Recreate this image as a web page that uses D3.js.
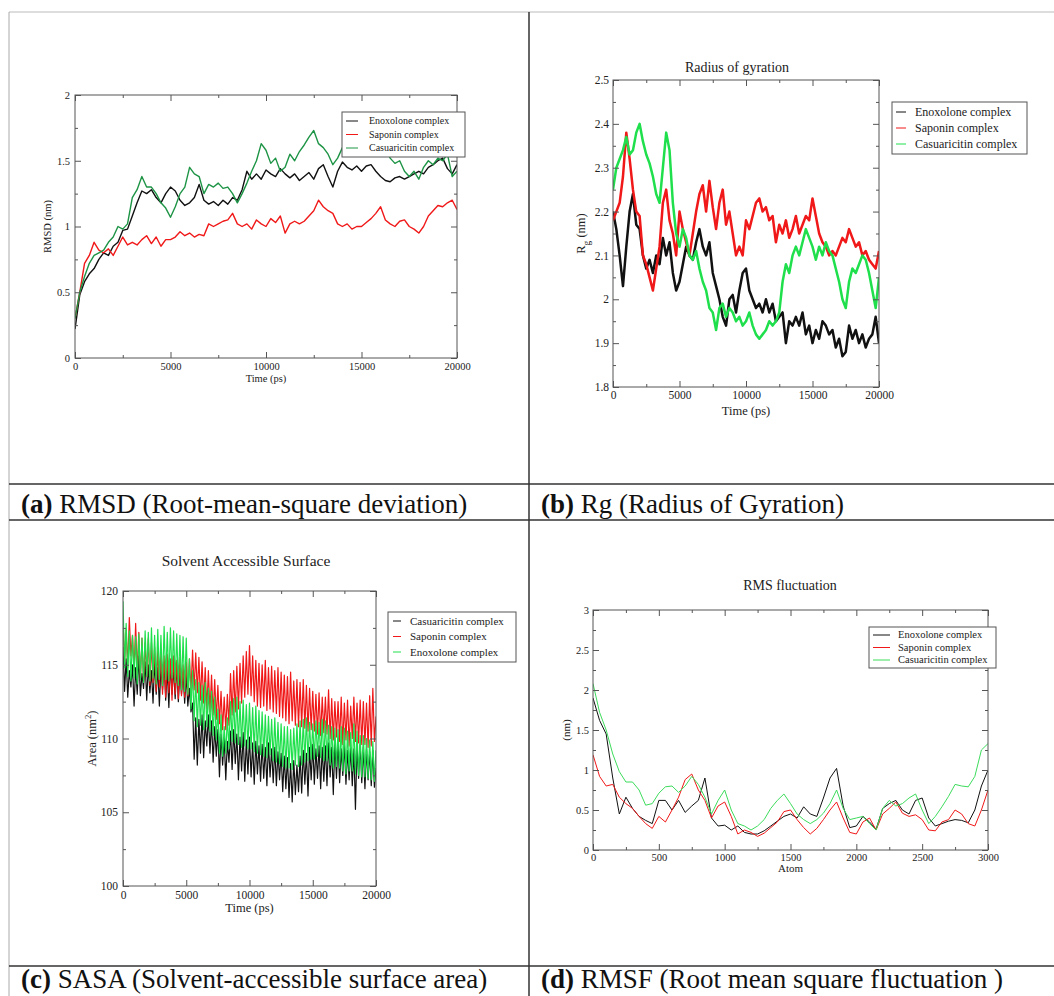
<!DOCTYPE html>
<html>
<head>
<meta charset="utf-8">
<script src="https://cdn.jsdelivr.net/npm/d3@7"></script>
<style>
  body { margin: 0; background: #fff; }
  svg { display: block; font-family: "Liberation Serif", "Times New Roman", serif; }
</style>
</head>
<body>
<svg id="fig" width="1054" height="996"></svg>
<script>
// ---- sampling grids ----
const simTime = d3.range(0, 20001, 250);   // RMSD / Rg frames, ps
const sasaTime = d3.range(0, 20001, 125);  // SASA frames, ps
const atomIdx = d3.range(0, 3001, 50);

const timeMajor = [0, 5000, 10000, 15000, 20000];
const timeMinor = [2500, 7500, 12500, 17500];

// ---- (a) RMSD (nm) ----
const rmsdEnoxolone = [
  0.22, 0.48, 0.58, 0.64, 0.68, 0.75, 0.80, 0.78, 0.85, 0.88, 0.97, 0.98, 1.08, 1.18, 1.27, 1.25,
  1.28, 1.22, 1.18, 1.25, 1.30, 1.27, 1.20, 1.16, 1.18, 1.22, 1.32, 1.20, 1.17, 1.19, 1.16, 1.20,
  1.17, 1.22, 1.20, 1.28, 1.42, 1.36, 1.40, 1.36, 1.43, 1.40, 1.38, 1.44, 1.40, 1.37, 1.40, 1.35,
  1.38, 1.41, 1.36, 1.44, 1.47, 1.38, 1.30, 1.42, 1.49, 1.45, 1.43, 1.46, 1.42, 1.46, 1.47, 1.42,
  1.38, 1.35, 1.34, 1.37, 1.38, 1.36, 1.38, 1.40, 1.42, 1.40, 1.45, 1.47, 1.50, 1.52, 1.44, 1.40, 1.47
];
const rmsdSaponin = [
  0.30, 0.50, 0.72, 0.78, 0.88, 0.82, 0.80, 0.83, 0.78, 0.85, 0.92, 0.86, 0.88, 0.86, 0.90, 0.93,
  0.87, 0.92, 0.85, 0.90, 0.90, 0.92, 0.96, 0.93, 0.95, 0.92, 0.94, 0.93, 1.02, 1.00, 1.02, 1.04,
  1.05, 1.10, 1.02, 1.00, 1.02, 0.98, 1.05, 1.02, 1.00, 1.06, 1.03, 1.08, 0.95, 1.02, 1.04, 1.02,
  1.04, 1.08, 1.12, 1.20, 1.15, 1.12, 1.10, 1.02, 1.00, 1.02, 0.98, 1.00, 1.00, 1.03, 1.06, 1.10,
  1.15, 1.05, 1.02, 1.00, 1.04, 1.05, 1.00, 0.98, 0.95, 1.00, 1.08, 1.12, 1.16, 1.15, 1.18, 1.20, 1.13
];
const rmsdCasuaricitin = [
  0.30, 0.50, 0.62, 0.72, 0.78, 0.80, 0.82, 0.88, 0.92, 1.00, 0.98, 1.02, 1.22, 1.28, 1.38, 1.30,
  1.30, 1.25, 1.18, 1.14, 1.07, 1.15, 1.25, 1.30, 1.45, 1.40, 1.38, 1.25, 1.32, 1.30, 1.33, 1.29,
  1.30, 1.25, 1.18, 1.25, 1.33, 1.42, 1.50, 1.63, 1.58, 1.48, 1.52, 1.42, 1.45, 1.55, 1.50, 1.57,
  1.62, 1.68, 1.73, 1.63, 1.60, 1.55, 1.47, 1.52, 1.60, 1.58, 1.62, 1.60, 1.58, 1.60, 1.62, 1.58,
  1.55, 1.60, 1.52, 1.48, 1.50, 1.42, 1.38, 1.42, 1.36, 1.45, 1.50, 1.47, 1.52, 1.50, 1.55, 1.38, 1.42
];

// ---- (b) Radius of gyration (nm) ----
const rgEnoxolone = [
  2.20, 2.16, 2.10, 2.03, 2.12, 2.20, 2.24, 2.17, 2.16, 2.10, 2.07, 2.09, 2.06, 2.10, 2.08, 2.14,
  2.10, 2.13, 2.06, 2.02, 2.04, 2.08, 2.12, 2.10, 2.09, 2.13, 2.16, 2.12, 2.10, 2.13, 2.06, 2.03,
  2.00, 1.96, 1.94, 2.00, 2.01, 1.97, 2.02, 2.06, 2.07, 2.02, 2.00, 1.98, 1.99, 1.97, 2.00, 1.97,
  1.99, 1.95, 1.96, 1.97, 1.90, 1.95, 1.94, 1.96, 1.94, 1.97, 1.92, 1.94, 1.90, 1.93, 1.91, 1.95,
  1.94, 1.92, 1.93, 1.89, 1.91, 1.87, 1.88, 1.94, 1.91, 1.93, 1.90, 1.92, 1.89, 1.91, 1.92, 1.96, 1.90
];
const rgSaponin = [
  2.18, 2.20, 2.22, 2.28, 2.38, 2.32, 2.25, 2.20, 2.19, 2.10, 2.08, 2.05, 2.02, 2.07, 2.12, 2.22,
  2.25, 2.18, 2.15, 2.10, 2.20, 2.16, 2.13, 2.10, 2.15, 2.20, 2.24, 2.26, 2.20, 2.27, 2.21, 2.16,
  2.22, 2.25, 2.17, 2.20, 2.15, 2.10, 2.12, 2.10, 2.18, 2.16, 2.19, 2.22, 2.23, 2.20, 2.21, 2.18,
  2.19, 2.13, 2.17, 2.15, 2.18, 2.14, 2.16, 2.19, 2.15, 2.17, 2.19, 2.18, 2.23, 2.19, 2.15, 2.13,
  2.12, 2.10, 2.11, 2.10, 2.12, 2.14, 2.13, 2.16, 2.14, 2.12, 2.13, 2.10, 2.11, 2.09, 2.08, 2.07, 2.11
];
const rgCasuaricitin = [
  2.25, 2.30, 2.32, 2.34, 2.37, 2.33, 2.34, 2.38, 2.40, 2.36, 2.33, 2.31, 2.28, 2.24, 2.22, 2.30,
  2.38, 2.34, 2.22, 2.15, 2.12, 2.16, 2.14, 2.10, 2.09, 2.11, 2.07, 2.04, 2.02, 1.98, 1.97, 1.93,
  1.98, 1.99, 1.96, 1.98, 1.97, 1.95, 1.96, 1.94, 1.95, 1.97, 1.94, 1.92, 1.91, 1.92, 1.93, 1.95,
  1.94, 1.95, 1.97, 2.04, 2.08, 2.06, 2.10, 2.12, 2.10, 2.13, 2.16, 2.14, 2.12, 2.09, 2.12, 2.10,
  2.13, 2.11, 2.10, 2.07, 2.04, 2.00, 1.98, 2.04, 2.07, 2.06, 2.08, 2.10, 2.09, 2.06, 2.02, 1.98, 2.05
];

// ---- (c) SASA (nm^2), one row per 1000 ps ----
const sasaCasuaricitin = [
  116.2, 113.2, 115.4, 112.8, 114.6, 113.5, 115.0, 112.2,
  114.8, 113.0, 115.6, 112.9, 114.4, 113.4, 115.2, 112.6,
  115.0, 113.1, 114.6, 112.4, 115.3, 113.0, 114.8, 112.2,
  114.9, 113.3, 115.2, 112.6, 114.7, 112.1, 115.1, 113.0,
  114.8, 112.7, 115.0, 112.5, 114.6, 113.0, 114.5, 112.4,
  114.3, 112.2, 113.4, 111.8, 112.4, 108.6, 111.4, 108.2,
  111.3, 109.0, 111.6, 108.7, 111.2, 109.5, 111.6, 109.0,
  111.2, 108.4, 110.8, 108.8, 110.6, 107.4, 110.3, 108.2,
  110.0, 107.2, 109.8, 108.4, 110.5, 107.9, 110.6, 108.3,
  110.3, 107.2, 110.1, 107.8, 110.4, 107.1, 109.9, 107.6,
  110.1, 107.4, 109.7, 106.9, 109.8, 107.6, 109.5, 107.1,
  109.6, 107.3, 109.4, 106.8, 109.7, 107.4, 109.3, 107.0,
  109.4, 106.8, 109.1, 107.2, 109.0, 106.4, 108.8, 106.6,
  108.7, 106.0, 108.3, 105.7, 108.5, 106.2, 108.2, 106.4,
  108.8, 106.3, 109.2, 106.9, 109.0, 106.1, 109.4, 107.2,
  109.6, 106.9, 109.3, 107.3, 109.5, 106.6, 109.4, 107.1,
  109.5, 106.8, 109.7, 107.4, 109.4, 106.2, 109.8, 107.3,
  109.7, 107.0, 109.3, 107.5, 109.6, 106.9, 109.2, 107.2,
  109.4, 106.8, 109.3, 105.2, 109.5, 107.3, 109.6, 107.0,
  109.4, 106.6, 109.3, 107.2, 109.1, 106.8, 109.2, 106.7,
  108.0
];
const sasaSaponin = [
  118.0, 115.2, 117.4, 114.8, 118.2, 115.6, 117.0, 114.6,
  117.8, 114.4, 117.2, 114.0, 116.8, 113.8, 116.5, 114.2,
  116.8, 113.6, 116.5, 113.8, 116.2, 113.2, 116.0, 113.5,
  115.8, 113.0, 115.6, 112.8, 115.7, 113.1, 115.4, 112.6,
  115.6, 113.0, 115.3, 112.7, 115.5, 112.9, 115.0, 112.8,
  115.2, 112.9, 115.4, 113.2, 116.0, 113.3, 115.8, 113.1,
  115.5, 112.6, 115.2, 112.4, 114.8, 112.0, 114.6, 111.8,
  114.3, 111.6, 114.0, 111.3, 113.6, 111.0, 113.2, 110.6,
  112.8, 110.6, 113.0, 110.9, 114.4, 111.6, 114.6, 111.8,
  114.9, 112.0, 115.1, 112.4, 115.6, 112.8, 115.9, 113.0,
  116.3, 112.9, 115.6, 112.5, 115.3, 112.2, 115.1, 112.1,
  115.0, 112.2, 115.3, 111.9, 114.8, 112.0, 114.9, 111.8,
  114.6, 111.7, 114.8, 111.5, 114.5, 111.4, 114.3, 111.2,
  114.2, 111.0, 114.5, 111.2, 113.9, 110.9, 114.0, 110.8,
  113.8, 110.8, 114.0, 110.7, 113.6, 110.5, 113.4, 110.6,
  113.2, 110.5, 113.0, 110.3, 113.1, 110.2, 112.8, 110.4,
  112.8, 110.3, 113.3, 110.0, 112.7, 109.9, 112.5, 110.1,
  112.5, 109.8, 112.8, 109.6, 112.4, 109.9, 112.6, 109.5,
  112.2, 110.0, 112.8, 109.8, 112.4, 109.7, 112.6, 109.6,
  112.5, 109.6, 112.4, 109.4, 112.9, 109.5, 113.4, 109.8,
  111.5
];
const sasaEnoxolone = [
  119.3, 114.8, 117.8, 114.2, 117.3, 113.9, 117.0, 114.1,
  116.9, 113.7, 117.1, 114.0, 116.8, 113.8, 117.3, 114.2,
  117.2, 113.9, 117.5, 114.1, 117.0, 113.7, 117.4, 114.0,
  117.0, 113.6, 117.6, 114.0, 117.2, 113.9, 117.5, 114.1,
  117.3, 113.8, 117.1, 113.6, 117.0, 113.3, 116.9, 113.2,
  116.8, 113.0, 115.4, 112.0, 114.6, 111.2, 114.0, 110.8,
  113.8, 110.9, 113.6, 110.6, 113.8, 110.8, 113.4, 110.5,
  113.2, 110.2, 112.8, 109.9, 112.0, 109.0, 111.6, 108.8,
  110.8, 109.0, 111.4, 109.3, 112.5, 109.8, 112.7, 109.7,
  112.8, 109.6, 112.5, 109.4, 112.6, 109.5, 112.3, 109.3,
  112.4, 109.3, 112.1, 109.1, 112.2, 109.0, 111.9, 108.9,
  111.8, 108.8, 111.6, 108.7, 111.5, 108.9, 111.3, 108.5,
  111.4, 108.4, 111.1, 108.3, 111.0, 108.1, 110.8, 108.0,
  110.8, 108.0, 110.6, 107.9, 110.7, 108.2, 111.0, 108.1,
  111.2, 108.2, 111.3, 108.4, 111.4, 108.5, 111.1, 108.6,
  111.0, 108.6, 111.2, 108.8, 111.1, 108.7, 111.3, 108.5,
  111.2, 108.5, 110.9, 108.2, 110.8, 108.0, 110.7, 108.1,
  110.6, 108.0, 110.8, 107.8, 110.7, 107.6, 110.5, 107.8,
  110.4, 107.8, 111.0, 107.6, 110.5, 107.5, 110.2, 107.4,
  110.2, 107.4, 110.0, 107.3, 109.9, 107.2, 109.8, 107.1,
  109.2
];

// ---- (d) RMSF (nm) ----
const rmsfEnoxolone = [
  1.90, 1.62, 1.45, 0.90, 0.45, 0.66, 0.52, 0.42, 0.37, 0.33, 0.62, 0.62, 0.50, 0.62, 0.47, 0.55,
  0.62, 0.90, 0.40, 0.30, 0.31, 0.25, 0.30, 0.22, 0.20, 0.20, 0.24, 0.30, 0.36, 0.42, 0.45, 0.40,
  0.54, 0.45, 0.42, 0.65, 0.90, 1.02, 0.55, 0.28, 0.30, 0.42, 0.35, 0.26, 0.52, 0.58, 0.62, 0.50,
  0.45, 0.62, 0.65, 0.40, 0.30, 0.33, 0.36, 0.38, 0.37, 0.34, 0.50, 0.80, 1.00
];
const rmsfSaponin = [
  1.19, 0.92, 0.80, 0.82, 0.66, 0.58, 0.52, 0.42, 0.33, 0.27, 0.42, 0.35, 0.50, 0.66, 0.88, 0.95,
  0.75, 0.62, 0.40, 0.55, 0.60, 0.42, 0.20, 0.25, 0.22, 0.17, 0.21, 0.28, 0.35, 0.48, 0.50, 0.38,
  0.28, 0.20, 0.27, 0.38, 0.50, 0.60, 0.40, 0.22, 0.20, 0.35, 0.40, 0.25, 0.45, 0.52, 0.60, 0.46,
  0.42, 0.44, 0.38, 0.25, 0.24, 0.35, 0.38, 0.50, 0.45, 0.33, 0.30, 0.50, 0.75
];
const rmsfCasuaricitin = [
  2.08, 1.72, 1.50, 1.20, 0.98, 0.85, 0.85, 0.75, 0.56, 0.58, 0.71, 0.79, 0.80, 0.72, 0.80, 0.92,
  0.82, 0.66, 0.45, 0.62, 0.75, 0.50, 0.33, 0.30, 0.25, 0.30, 0.38, 0.52, 0.62, 0.70, 0.58, 0.45,
  0.38, 0.33, 0.38, 0.46, 0.58, 0.75, 0.52, 0.38, 0.40, 0.42, 0.33, 0.25, 0.52, 0.62, 0.55, 0.58,
  0.65, 0.70, 0.50, 0.33, 0.42, 0.54, 0.67, 0.82, 0.80, 0.79, 0.92, 1.25, 1.33
];

const BLACK = "#111", RED = "#f01818", DKGREEN = "#1d9445", GREEN = "#1fe04c";
const frameColor = "#555";
const svg = d3.select("#fig");
const fmt = d3.format("~g");

// ---- table rules ----
const rules = svg.append("g");
rules.append("line").attr("x1", 9).attr("x2", 1054).attr("y1", 12).attr("y2", 12).attr("stroke", "#bbb");
rules.append("line").attr("x1", 9).attr("x2", 9).attr("y1", 12).attr("y2", 996).attr("stroke", "#aaa");
rules.append("line").attr("x1", 529).attr("x2", 529).attr("y1", 12).attr("y2", 996).attr("stroke", "#333").attr("stroke-width", 1.5);
[484, 520, 966].forEach(yy => rules.append("line").attr("x1", 9).attr("x2", 1054).attr("y1", yy).attr("y2", yy)
  .attr("stroke", "#333").attr("stroke-width", 1.5));

const captions = [
  { x: 21, y: 513, tag: "(a)", text: " RMSD (Root-mean-square deviation)" },
  { x: 541, y: 513, tag: "(b)", text: " Rg (Radius of Gyration)" },
  { x: 21, y: 988, tag: "(c)", text: " SASA (Solvent-accessible surface area)" },
  { x: 541, y: 988, tag: "(d)", text: " RMSF (Root mean square fluctuation )" },
];
captions.forEach(c => {
  const t = svg.append("text").attr("x", c.x).attr("y", c.y).attr("font-size", 27).attr("fill", "#111");
  t.append("tspan").attr("font-weight", "bold").text(c.tag);
  t.append("tspan").text(c.text);
});

function panel(cfg) {
  const x = d3.scaleLinear().domain(cfg.xDomain).range([cfg.left, cfg.right]);
  const y = d3.scaleLinear().domain(cfg.yDomain).range([cfg.bottom, cfg.top]);
  const w = cfg.right - cfg.left, h = cfg.bottom - cfg.top;
  const g = svg.append("g");

  g.append("clipPath").attr("id", "clip-" + cfg.id)
    .append("rect").attr("x", cfg.left).attr("y", cfg.top).attr("width", w).attr("height", h);

  const plot = g.append("g").attr("clip-path", `url(#clip-${cfg.id})`);
  cfg.series.forEach(s => {
    const line = d3.line().x((d, i) => x(cfg.xs[i])).y(d => y(d));
    plot.append("path").datum(s.values)
      .attr("fill", "none").attr("stroke", s.color)
      .attr("stroke-width", cfg.lw).attr("stroke-linejoin", "round")
      .attr("d", line);
  });

  // ticks on all four sides, pointing inward (Grace style)
  const style = sel => {
    sel.select(".domain").remove();
    sel.attr("font-family", null).attr("font-size", cfg.tickFont);
    sel.selectAll(".tick line").attr("stroke", frameColor);
    sel.selectAll(".tick text").attr("fill", "#222");
  };
  const axes = [
    [d3.axisBottom(x), `translate(0,${cfg.bottom})`, cfg.xMajor, cfg.xMinor, true],
    [d3.axisTop(x), `translate(0,${cfg.top})`, cfg.xMajor, cfg.xMinor, false],
    [d3.axisLeft(y), `translate(${cfg.left},0)`, cfg.yMajor, cfg.yMinor, true],
    [d3.axisRight(y), `translate(${cfg.right},0)`, cfg.yMajor, cfg.yMinor, false],
  ];
  axes.forEach(([ax, tr, major, minor, labelled]) => {
    g.append("g").attr("transform", tr)
      .call(ax.tickValues(major).tickSize(-6).tickPadding(cfg.pad)
        .tickFormat(labelled ? fmt : ""))
      .call(style);
    g.append("g").attr("transform", tr)
      .call(ax.tickValues(minor).tickSize(-3).tickFormat(""))
      .call(style);
  });

  g.append("rect").attr("x", cfg.left).attr("y", cfg.top).attr("width", w).attr("height", h)
    .attr("fill", "none").attr("stroke", frameColor);

  // axis titles
  g.append("text").attr("x", (cfg.left + cfg.right) / 2).attr("y", cfg.xLabelY)
    .attr("text-anchor", "middle").attr("font-size", cfg.labelFont).attr("fill", "#222")
    .text(cfg.xLabel);
  const yl = g.append("text")
    .attr("transform", `translate(${cfg.yLabelX},${(cfg.top + cfg.bottom) / 2}) rotate(-90)`)
    .attr("text-anchor", "middle").attr("font-size", cfg.labelFont).attr("fill", "#222");
  cfg.yLabel.forEach(part => {
    const ts = yl.append("tspan").text(part.t);
    if (part.sub) ts.attr("baseline-shift", "sub").attr("font-size", cfg.labelFont * 0.75);
    if (part.sup) ts.attr("baseline-shift", "super").attr("font-size", cfg.labelFont * 0.7);
  });

  if (cfg.title) {
    g.append("text").attr("x", cfg.title.x).attr("y", cfg.title.y).attr("text-anchor", "middle")
      .attr("font-size", cfg.title.size).attr("fill", "#222").text(cfg.title.text);
  }

  // legend
  const L = cfg.legend;
  const lg = g.append("g");
  lg.append("rect").attr("x", L.x).attr("y", L.y).attr("width", L.w).attr("height", L.h)
    .attr("fill", "#fff").attr("stroke", frameColor);
  cfg.series.forEach((s, i) => {
    const cy = L.y + L.first + i * L.step;
    lg.append("line").attr("x1", L.x + L.l0).attr("x2", L.x + L.l1).attr("y1", cy).attr("y2", cy)
      .attr("stroke", s.color).attr("stroke-width", 1);
    lg.append("text").attr("x", L.x + L.tx).attr("y", cy).attr("dy", "0.33em")
      .attr("font-size", L.font).attr("fill", "#222").text(s.name);
  });
}

panel({
  id: "a", left: 75, right: 457, top: 95, bottom: 358,
  xDomain: [0, 20000], yDomain: [0, 2], xs: simTime,
  xMajor: timeMajor, xMinor: timeMinor,
  yMajor: [0, 0.5, 1, 1.5, 2], yMinor: [0.25, 0.75, 1.25, 1.75],
  tickFont: 10.5, pad: 5, labelFont: 10.5, lw: 1.4,
  xLabel: "Time (ps)", xLabelY: 382,
  yLabel: [{ t: "RMSD (nm)" }], yLabelX: 51,
  legend: { x: 342, y: 112, w: 123, h: 45, first: 9, step: 13.5, l0: 4, l1: 16, tx: 27, font: 10 },
  series: [
    { name: "Enoxolone complex", color: BLACK, values: rmsdEnoxolone },
    { name: "Saponin complex", color: RED, values: rmsdSaponin },
    { name: "Casuaricitin complex", color: DKGREEN, values: rmsdCasuaricitin },
  ],
});

panel({
  id: "b", left: 613, right: 879, top: 80, bottom: 387,
  xDomain: [0, 20000], yDomain: [1.8, 2.5], xs: simTime,
  xMajor: timeMajor, xMinor: timeMinor,
  yMajor: [1.8, 1.9, 2, 2.1, 2.2, 2.3, 2.4, 2.5], yMinor: [1.85, 1.95, 2.05, 2.15, 2.25, 2.35, 2.45],
  tickFont: 11.5, pad: 4, labelFont: 12.5, lw: 2.5,
  xLabel: "Time (ps)", xLabelY: 415,
  yLabel: [{ t: "R" }, { t: "g", sub: true }, { t: " (nm)" }], yLabelX: 585,
  title: { text: "Radius of gyration", x: 737, y: 72, size: 14 },
  legend: { x: 892, y: 102, w: 135, h: 52, first: 10, step: 16, l0: 4, l1: 14, tx: 23, font: 12 },
  series: [
    { name: "Enoxolone complex", color: BLACK, values: rgEnoxolone },
    { name: "Saponin complex", color: RED, values: rgSaponin },
    { name: "Casuaricitin complex", color: GREEN, values: rgCasuaricitin },
  ],
});

panel({
  id: "c", left: 123, right: 376, top: 591, bottom: 886,
  xDomain: [0, 20000], yDomain: [100, 120], xs: sasaTime,
  xMajor: timeMajor, xMinor: timeMinor,
  yMajor: [100, 105, 110, 115, 120], yMinor: [102.5, 107.5, 112.5, 117.5],
  tickFont: 11.5, pad: 5, labelFont: 12.5, lw: 1.2,
  xLabel: "Time (ps)", xLabelY: 912,
  yLabel: [{ t: "Area (nm" }, { t: "2", sup: true }, { t: ")" }], yLabelX: 96,
  title: { text: "Solvent Accessible Surface", x: 246, y: 566, size: 15.5 },
  legend: { x: 388, y: 612, w: 128, h: 50, first: 9, step: 15.5, l0: 5, l1: 13, tx: 22, font: 11 },
  series: [
    { name: "Casuaricitin complex", color: BLACK, values: sasaCasuaricitin },
    { name: "Saponin complex", color: RED, values: sasaSaponin },
    { name: "Enoxolone complex", color: GREEN, values: sasaEnoxolone },
  ],
});

panel({
  id: "d", left: 593, right: 988, top: 610, bottom: 850,
  xDomain: [0, 3000], yDomain: [0, 3], xs: atomIdx,
  xMajor: d3.range(0, 3001, 500), xMinor: d3.range(250, 3000, 500),
  yMajor: [0, 0.5, 1, 1.5, 2, 2.5, 3], yMinor: [0.25, 0.75, 1.25, 1.75, 2.25, 2.75],
  tickFont: 10.5, pad: 4, labelFont: 11, lw: 1,
  xLabel: "Atom", xLabelY: 872,
  yLabel: [{ t: "(nm)" }], yLabelX: 570,
  title: { text: "RMS fluctuation", x: 790, y: 590, size: 14 },
  legend: { x: 869, y: 627, w: 127, h: 41, first: 8, step: 12.5, l0: 4, l1: 21, tx: 29, font: 10.5 },
  series: [
    { name: "Enoxolone complex", color: BLACK, values: rmsfEnoxolone },
    { name: "Saponin complex", color: RED, values: rmsfSaponin },
    { name: "Casuaricitin complex", color: "#3ddc5c", values: rmsfCasuaricitin },
  ],
});
</script>
</body>
</html>
